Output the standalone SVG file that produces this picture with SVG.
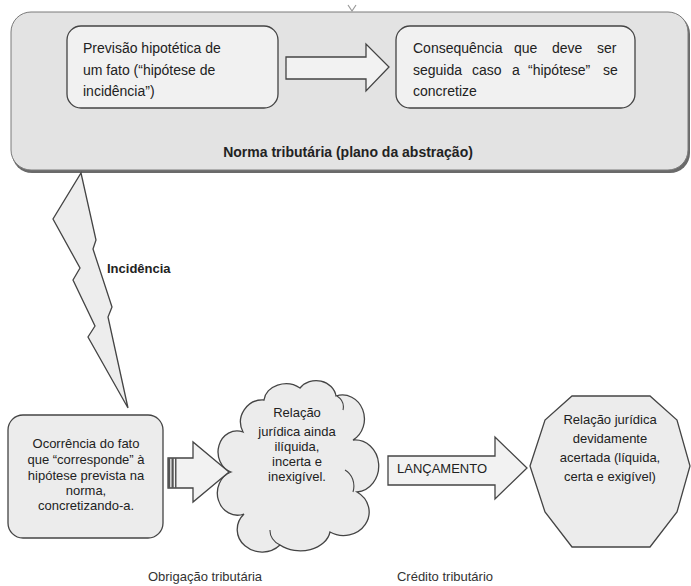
<svg xmlns="http://www.w3.org/2000/svg" width="691" height="586" viewBox="0 0 691 586">
<style>
text{font-family:"Liberation Sans",Arial,sans-serif;fill:#222;}
.t{font-size:14px;}
.b{font-size:14px;font-weight:bold;}
.s{font-size:13px;}
.m{font-size:13px;text-anchor:middle;}
.lbl{font-size:13px;text-anchor:middle;fill:#333;}
.shape{fill:#ececec;stroke:#444;stroke-width:1.3;}
.arrow{fill:#f2f2f2;stroke:#444;stroke-width:1.3;}
.inner{fill:#f1f1f1;stroke:#444;stroke-width:1.3;}
</style>
<rect width="691" height="586" fill="#ffffff"/>

<g id="norma">
  <rect x="12" y="14" width="678" height="159" rx="20" fill="#6a6a6a"/>
  <rect x="11" y="12" width="677" height="158" rx="20" fill="#e3e3e3" stroke="#7a7a7a" stroke-width="1"/>
  <path d="M348,5 L352,11 L356,5" fill="none" stroke="#999" stroke-width="1.2"/>
  <text class="b" x="348" y="157" text-anchor="middle">Norma tributária (plano da abstração)</text>
</g>

<g id="previsao">
  <rect class="inner" x="67" y="26" width="211" height="82" rx="14"/>
  <text class="t" x="83" y="53">Previsão hipotética de</text>
  <text class="t" x="83" y="75">um fato (“hipótese de</text>
  <text class="t" x="83" y="96">incidência”)</text>
</g>

<g id="consequencia">
  <rect class="inner" x="396" y="26" width="239" height="82" rx="14"/>
  <text class="t" y="53"><tspan x="413">Consequência</tspan><tspan x="514">que</tspan><tspan x="552">deve</tspan><tspan x="597">ser</tspan></text>
  <text class="t" y="75"><tspan x="413">seguida</tspan><tspan x="472">caso</tspan><tspan x="512">a</tspan><tspan x="528">“hipótese”</tspan><tspan x="603">se</tspan></text>
  <text class="t" x="413" y="96">concretize</text>
</g>

<g id="ocorrencia">
  <rect class="shape" x="8" y="415" width="155" height="123" rx="15"/>
  <text class="m" x="86" y="448">Ocorrência do fato</text>
  <text class="m" x="86" y="464">que “corresponde” à</text>
  <text class="m" x="86" y="480">hipótese prevista na</text>
  <text class="m" x="86" y="495">norma,</text>
  <text class="m" x="86" y="510">concretizando-a.</text>
</g>

<g id="relacao-iliquida">
  <path class="shape" d="M231,472 A18,20 0 0 1 243,432 A22,22 0 0 1 264,400 A22,18 0 0 1 300,388 A20,18 0 0 1 336,396 A22,24 0 0 1 353,440 A20,22 0 0 1 357,492 A24,22 0 0 1 330,532 A30,22 0 0 1 280,545 A22,20 0 0 1 244,514 A20,22 0 0 1 231,472 Z"/>
  <path d="M337,396 A16,14 0 0 1 343,410 M353,492 A16,18 0 0 0 345,470 M280,545 A18,16 0 0 1 270,530" fill="none" stroke="#444" stroke-width="1.1"/>
  <text class="m" x="297" y="417">Relação</text>
  <text class="m" x="297" y="436">jurídica ainda</text>
  <text class="m" x="297" y="451">ilíquida,</text>
  <text class="m" x="297" y="466">incerta e</text>
  <text class="m" x="297" y="481">inexigível.</text>
</g>

<g id="relacao-acertada">
  <polygon class="shape" points="530,466 545,420 572,396 650,396 677,420 690,466 677,512 650,547 572,547 545,512"/>
  <text class="m" x="610" y="424">Relação jurídica</text>
  <text class="m" x="610" y="443">devidamente</text>
  <text class="m" x="610" y="462">acertada (líquida,</text>
  <text class="m" x="610" y="481">certa e exigível)</text>
</g>

<g id="connectors">
  <polygon class="arrow" points="286,57 366,57 366,44 389,67 366,91 366,79 286,79"/>
  <polygon points="81,173 96,240 93,249 112,307 108,317 128,408 88,337 95,326 73,280 80,268 53,219" fill="#ededed" stroke="#444" stroke-width="1.3" stroke-linejoin="miter"/>
  <text class="b" x="107" y="273" style="font-size:13px">Incidência</text>
  <g>
    <polygon class="arrow" points="168,458 193,458 193,442 229,472 193,502 193,488 168,488"/>
    <rect x="168" y="458" width="2.2" height="30" fill="#555"/>
    <rect x="171.5" y="458" width="2.2" height="30" fill="#555"/>
    <rect x="175" y="458" width="1.5" height="30" fill="#555"/>
  </g>
  <polygon class="arrow" points="388,456 495,456 495,437 527,468 495,499 495,485 388,485"/>
  <text class="s" x="397" y="473">LANÇAMENTO</text>
</g>

<text class="lbl" x="205" y="581">Obrigação tributária</text>
<text class="lbl" x="445" y="581">Crédito tributário</text>
</svg>
